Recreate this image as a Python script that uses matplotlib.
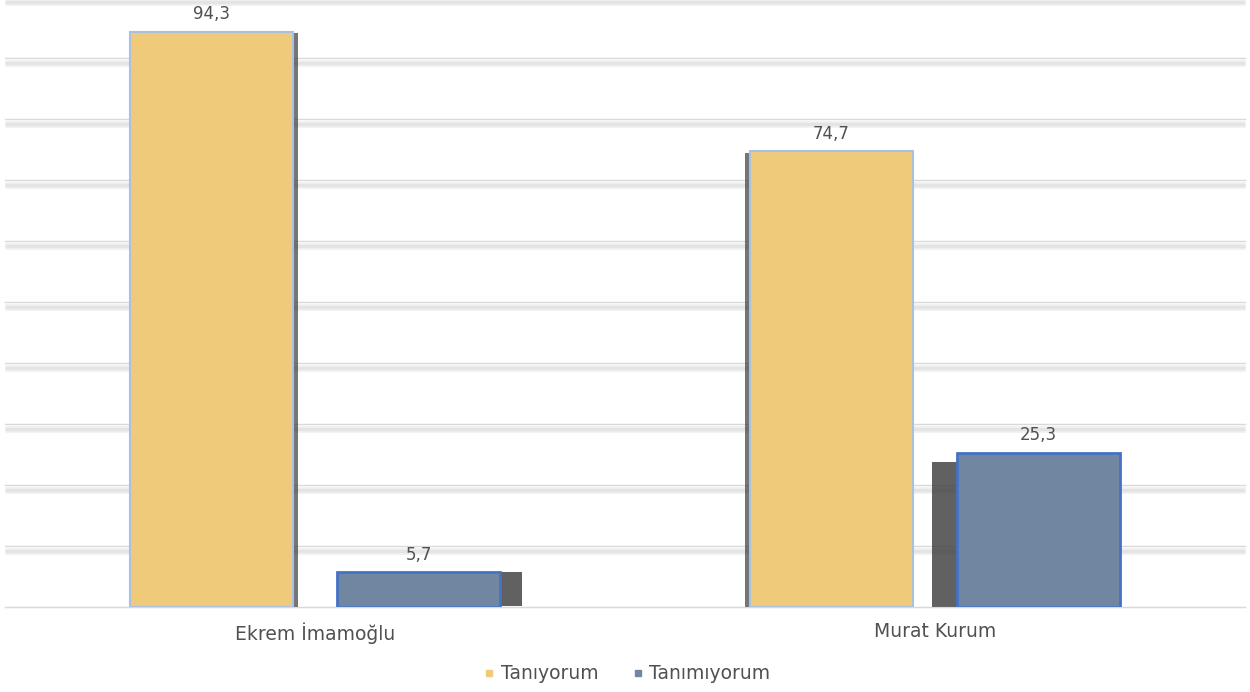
import numpy as np
import matplotlib.pyplot as plt
import matplotlib.patheffects as pe
from matplotlib.transforms import offset_copy
from matplotlib.lines import Line2D

# Veriler
kategoriler = ['Ekrem İmamoğlu', 'Murat Kurum']
taniyorum = [94.3, 74.7]
tanimiyorum = [5.7, 25.3]
seriler = ['Tanıyorum', 'Tanımıyorum']

sari = '#EFCA7B'
mavi = '#7186A0'
yazi = '#505050'

plt.rcParams['font.family'] = ['DejaVu Sans']

fig = plt.figure(figsize=(12.5, 6.92), dpi=100)
ax = fig.add_axes([0.004, 0.1228, 0.992, 0.8815])

# Izgara çizgileri (yumuşak gölgeli)
for v in np.arange(0, 101, 10):
    if v > 0:
        for dy, lw, c in [(-5, 5, '#f2f2f2'), (-5, 2.5, '#e4e4e4')]:
            tr = offset_copy(ax.transData, fig=fig, x=0, y=dy, units='dots')
            ax.plot([-0.5, 1.5], [v, v], color=c, lw=lw, transform=tr,
                    clip_on=False, zorder=0, solid_capstyle='butt')
    ax.plot([-0.5, 1.5], [v, v], color='#d9d9d9', lw=1.0, clip_on=False, zorder=0.5)

x = np.arange(len(kategoriler))
w = 0.263
d = 0.167

# Gölgeler (nokta cinsinden kaydırma)
golge_ofs = [[(3.5, -1), (-3.5, -1)], [(16, 0.5), (-18, -6.5)]]

b1 = ax.bar(x - d, taniyorum, w, color=sari, edgecolor='#A9C0E0', lw=1.5, zorder=3)
b2 = ax.bar(x + d, tanimiyorum, w, color=mavi, edgecolor='#4472C4', lw=2, zorder=3)
for i, bar in enumerate(b1):
    bar.set_path_effects([pe.SimplePatchShadow(offset=golge_ofs[0][i], shadow_rgbFace='#3a3a3a',
                                               alpha=0.7), pe.Normal()])
for i, bar in enumerate(b2):
    bar.set_path_effects([pe.SimplePatchShadow(offset=golge_ofs[1][i], shadow_rgbFace='#3a3a3a',
                                               alpha=0.8), pe.Normal()])

for bars, vals in [(b1, taniyorum), (b2, tanimiyorum)]:
    for bar, v in zip(bars, vals):
        ax.annotate(f'{v:.1f}'.replace('.', ','), (bar.get_x() + bar.get_width() / 2, v),
                    xytext=(0, 6), textcoords='offset points', ha='center', va='bottom',
                    fontsize=12, color=yazi)

ax.set_xlim(-0.5, 1.5)
ax.set_ylim(0, 100)
ax.set_yticks([])
ax.set_xticks(x)
ax.set_xticklabels(kategoriler, fontsize=13.5, color=yazi)
ax.tick_params(axis='x', length=0, pad=11)
for s in ['top', 'right', 'left']:
    ax.spines[s].set_visible(False)
ax.spines['bottom'].set_color('#d9d9d9')
ax.spines['bottom'].set_zorder(4)

handles = [Line2D([], [], marker='s', ls='', color=sari, markersize=5),
           Line2D([], [], marker='s', ls='', color=mavi, markersize=5)]
fig.legend(handles, seriler, loc='lower center', ncol=2, frameon=False,
           fontsize=13.5, labelcolor=yazi, bbox_to_anchor=(0.5, -0.012),
           handletextpad=0.1, columnspacing=1.6, handlelength=1.0)

fig.savefig('out.png', dpi=100)
